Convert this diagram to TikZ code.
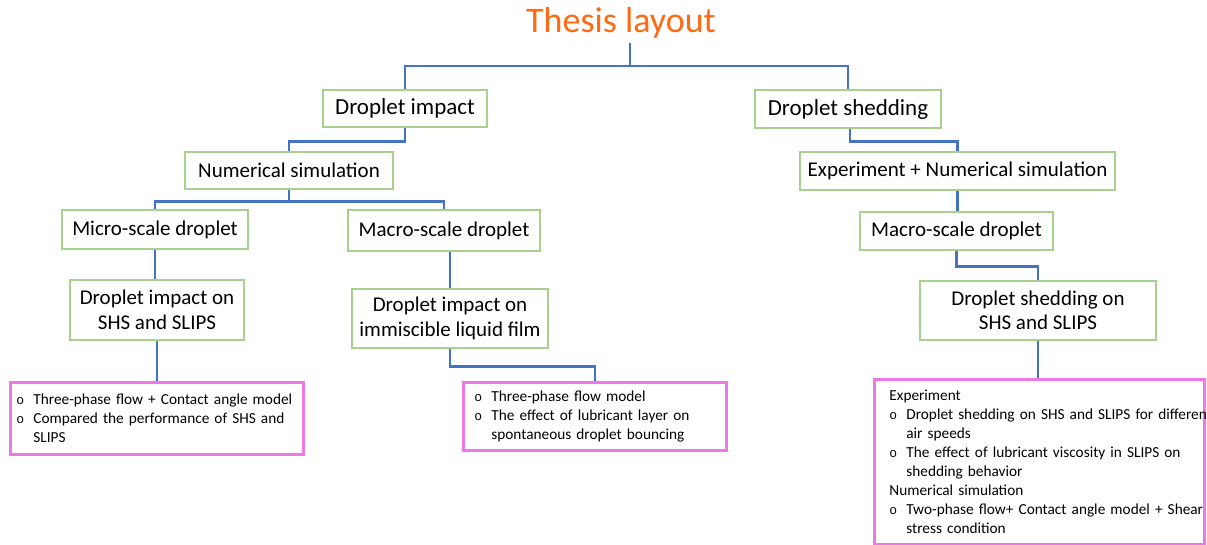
\documentclass[tikz,border=0pt]{standalone}
\usepackage{fontspec}
\setmainfont{Carlito}
\newfontfamily\bulletfont{Liberation Mono}
\usetikzlibrary{positioning}
\definecolor{boxgreen}{HTML}{A9D18E}
\definecolor{linkblue}{HTML}{4472C4}
\definecolor{sumpink}{HTML}{EE78E6}
\definecolor{titleorange}{HTML}{FF6A13}
\newcommand{\bul}{\makebox[17pt][l]{\bulletfont\fontsize{13}{18.9}\selectfont o}}
\newcommand{\ind}{\hspace*{17pt}}
\begin{document}
\begin{tikzpicture}[x=1pt,y=-1pt,
		topic/.style={draw=boxgreen,line width=2.8pt,fill=white,align=center,inner sep=2pt,font=\fontsize{21}{24.5}\selectfont},
		branch/.style={topic,font=\fontsize{23}{24.5}\selectfont},
		summary/.style={draw=sumpink,line width=2.8pt,fill=white,align=left,anchor=north west,inner ysep=0pt,font=\fontsize{15.3}{18.9}\selectfont},
		link/.style={draw=linkblue,line width=2.8pt}]
		\useasboundingbox[fill=white] (0,0) rectangle (1207,545);
		\node[anchor=base,inner sep=4pt,text=titleorange,font=\fontsize{36}{40}\selectfont] (title) at (621,33) {Thesis layout};
		% droplet impact branch
		\node[branch,minimum width=164pt,minimum height=37pt] (impact) at (405,108.5) {Droplet impact};
		\node[topic,minimum width=208pt,minimum height=37pt] (numsim) at (289,170.5) {Numerical simulation};
		\node[topic,minimum width=186pt,minimum height=39pt] (micro) at (155,229.5) {Micro-scale droplet};
		\node[topic,minimum width=192pt,minimum height=41pt] (macro) at (444,230.5) {Macro-scale droplet};
		\node[topic,minimum width=174pt,minimum height=60pt] (impactshs) at (157,310) {Droplet impact on\\SHS and SLIPS};
		\node[topic,minimum width=196pt,minimum height=59pt] (impactfilm) at (450,318.5) {Droplet impact on\\immiscible liquid film};
		\node[summary,inner xsep=6pt,text width=281pt,minimum height=72pt] (impactshssum) at (9,381) {\bul Three-phase flow + Contact angle model\\\bul Compared the performance of SHS and\\\ind SLIPS};
		\node[summary,inner xsep=11pt,text width=241pt,minimum height=68pt] (impactfilmsum) at (462,381) {\bul Three-phase flow model\\\bul The effect of lubricant layer on\\\ind spontaneous droplet bouncing};
		% droplet shedding branch
		\node[branch,minimum width=186pt,minimum height=38pt] (shedding) at (848,109) {Droplet shedding};
		\node[topic,minimum width=315pt,minimum height=38pt] (expnum) at (957.5,171) {Experiment + Numerical simulation};
		\node[topic,minimum width=193pt,minimum height=38pt] (macroshed) at (956.5,231) {Macro-scale droplet};
		\node[topic,minimum width=236pt,minimum height=59pt] (shedshs) at (1038,310.5) {Droplet shedding on\\SHS and SLIPS};
		\node[summary,inner xsep=15pt,text width=300pt,minimum height=165pt] (shedshssum) at (873,378) {Experiment\\\bul \mbox{Droplet shedding on SHS and SLIPS for different}\\\ind air speeds\\\bul The effect of lubricant viscosity in SLIPS on\\\ind shedding behavior\\Numerical simulation\\\bul \mbox{Two-phase flow+ Contact angle model + Shear}\\\ind stress condition};
		% connectors
		\draw[link] ([xshift=9pt]title.south) -- ++(0,23) coordinate (split);
		\draw[link] (impact.north) |- (split) -| (shedding.north);
		\draw[link] (impact.south) -- ++(0,13) -| (numsim.north);
		\draw[link] (numsim.south) -- ++(0,11) coordinate (scale);
		\draw[link] (micro.north) |- (scale) -| (macro.north);
		\draw[link] (micro.south) -- (micro.south |- impactshs.north);
		\draw[link] (impactshs.south) -- (impactshs.south |- impactshssum.north);
		\draw[link] (impactfilm.north |- macro.south) -- (impactfilm.north);
		\draw[link] (impactfilm.south) -- ++(0,17) -| (impactfilmsum.north);
		\draw[link] ([xshift=2pt]shedding.south) -- ++(0,12) -| (expnum.north);
		\draw[link] (expnum.south) -- (expnum.south |- macroshed.north);
		\draw[link] (macroshed.south) -- ++(0,15) -| (shedshs.north);
		\draw[link] (shedshs.south) -- (shedshs.south |- shedshssum.north);
	\end{tikzpicture}
\end{document}
